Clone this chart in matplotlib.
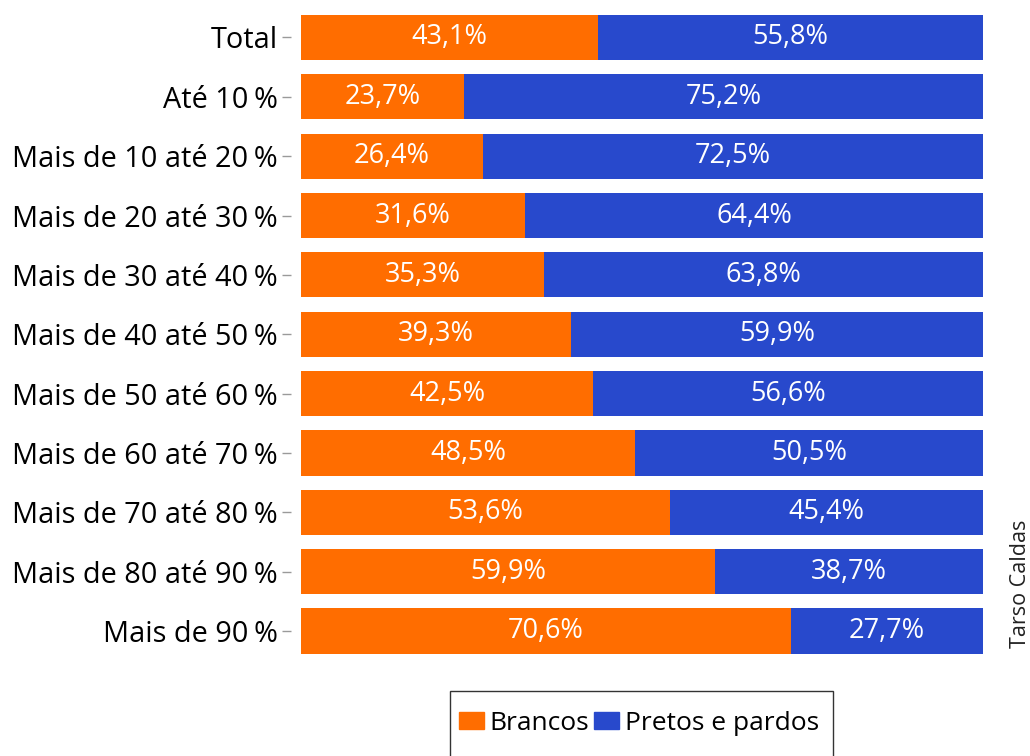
import matplotlib
matplotlib.use("Agg")
import matplotlib.pyplot as plt
from matplotlib.patches import Rectangle, Patch

plt.rcParams["font.family"] = ["Open Sans", "DejaVu Sans"]

# faixas de renda e participação por cor/raça (%)
faixas = ["Total", "Até 10\u202f%", "Mais de 10 até 20\u202f%", "Mais de 20 até 30\u202f%",
          "Mais de 30 até 40\u202f%", "Mais de 40 até 50\u202f%", "Mais de 50 até 60\u202f%",
          "Mais de 60 até 70\u202f%", "Mais de 70 até 80\u202f%", "Mais de 80 até 90\u202f%",
          "Mais de 90\u202f%"]
brancos = [43.1, 23.7, 26.4, 31.6, 35.3, 39.3, 42.5, 48.5, 53.6, 59.9, 70.6]
pretos = [55.8, 75.2, 72.5, 64.4, 63.8, 59.9, 56.6, 50.5, 45.4, 38.7, 27.7]

COR_BR = "#FF6D00"
COR_PP = "#2849CC"

fig = plt.figure(figsize=(10.30, 7.56), dpi=100, facecolor="white")
ax = fig.add_axes([301 / 1030, 1 - 660.7 / 756, 682 / 1030, 652.9 / 756])
# ticks afastados das barras
ax.spines["left"].set_position(("outward", 7.5))

y = list(range(len(faixas)))
tot = [b + p for b, p in zip(brancos, pretos)]
w_br = [b / t for b, t in zip(brancos, tot)]
w_pp = [p / t for p, t in zip(pretos, tot)]

bars_br = ax.barh(y, w_br, height=0.76, color=COR_BR)
bars_pp = ax.barh(y, w_pp, left=w_br, height=0.76, color=COR_PP)

fmt = lambda v: f"{v:.1f}%".replace(".", ",")
ax.bar_label(bars_br, labels=[fmt(v) for v in brancos], label_type="center",
             color="white", fontsize=19.5)
ax.bar_label(bars_pp, labels=[fmt(v) for v in pretos], label_type="center",
             color="white", fontsize=19.5)

ax.set_xlim(0, 1)
ax.set_ylim(len(faixas) - 0.5, -0.5)
ax.set_yticks(y)
ax.set_yticklabels(faixas, fontsize=20.8)
ax.set_xticks([])
ax.tick_params(axis="y", length=6.5, width=1, color="#9a9a9a", pad=2.5)
for s in ax.spines.values():
    s.set_visible(False)

# caixa da legenda (estende além da borda inferior)
fig.patches.append(Rectangle((450 / 1030, -0.05), 383 / 1030, (1 - 691 / 756) + 0.05,
                             transform=fig.transFigure, fill=False,
                             edgecolor="#333333", linewidth=1))
handles = [Patch(color=COR_BR, label="Brancos"), Patch(color=COR_PP, label="Pretos e pardos")]
fig.legend(handles=handles, loc="center", bbox_to_anchor=(639 / 1030, 1 - 723 / 756),
           ncol=2, frameon=False, fontsize=19, handlelength=0.95, handleheight=0.6,
           handletextpad=0.22, columnspacing=0.2)

fig.text(1020 / 1030, 1 - 584 / 756, "Tarso Caldas", rotation=90, fontsize=15.5,
         ha="center", va="center", color="#222222")

fig.savefig("out.png", dpi=100)
